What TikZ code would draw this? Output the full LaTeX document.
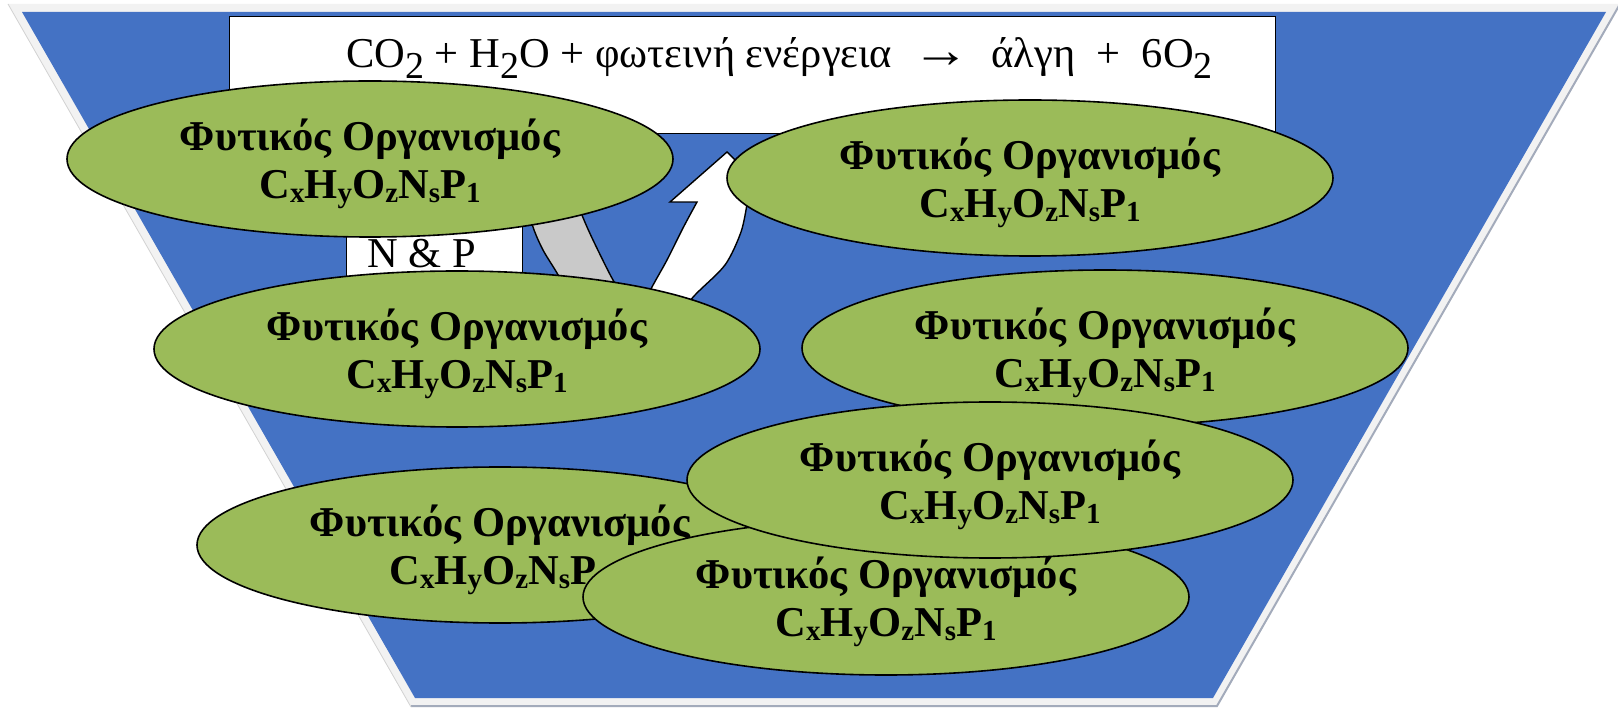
\documentclass[tikz,border=0pt]{standalone}
\usepackage{fontspec}
\setmainfont{Liberation Serif}
\usetikzlibrary{shapes.geometric}

\definecolor{trapblue}{HTML}{4472C4}
\definecolor{plantgreen}{HTML}{9BBB59}
\definecolor{framegrey}{HTML}{F2F2F2}
\definecolor{shadowgrey}{HTML}{A3ABBB}
\definecolor{backgrey}{HTML}{C9C9C9}

\newcommand{\lowsub}[1]{\raisebox{-3.5pt}{\fontsize{29}{29}\selectfont #1}}
\newcommand{\eqsub}[1]{\raisebox{-11pt}{\fontsize{38}{38}\selectfont #1}}
\newcommand{\plantlabel}{\rule{0pt}{41pt}Φυτικός Οργανισμός\\C\lowsub{x}H\lowsub{y}O\lowsub{z}N\lowsub{s}P\lowsub{1}}

\tikzset{
  organism/.style={ellipse, draw=black, line width=1.6pt, fill=plantgreen,
    minimum width=606pt, minimum height=156pt, inner sep=0pt, align=center,
    font=\fontsize{42.5}{48}\selectfont\bfseries},
  whitebox/.style={draw=black, line width=1.2pt, fill=white, inner sep=0pt, anchor=north west},
  plaintext/.style={anchor=base west, inner sep=0pt, font=\fontsize{42.5}{48}\selectfont}
}

\begin{document}
\begin{tikzpicture}[x=1pt,y=-1pt]
\useasboundingbox (0,0) rectangle (1618,708);

\fill[framegrey] (8,4) -- (1620,4) -- (1217,707) -- (411,707) -- cycle;
\draw[shadowgrey,line width=2pt] (1620,4) -- (1217,706) -- (411,706);
\draw[gray!35,line width=0.8pt] (8,4) -- (411,707);
\fill[trapblue] (22,12) -- (1606,12) -- (1213,698) -- (415,698) -- cycle;

\node[whitebox,minimum width=1046pt,minimum height=117pt] (eqbox) at (229,16) {};
\node[plaintext] (eqtext) at (346,68) {CO\eqsub{2} + H\eqsub{2}O + φωτεινή ενέργεια \ \scalebox{1.35}[1.2]{→} \ άλγη \ + \ 6O\eqsub{2}};

\node[whitebox,minimum width=176pt,minimum height=90pt] (npbox) at (346,200) {};
\node[plaintext] (nptext) at (367,268) {N \& P};

\draw[fill=backgrey,line width=1.4pt] plot[smooth] coordinates {(526,198) (533,227) (543,250) (557,273) (572,300)}
  -- plot[smooth] coordinates {(628,302) (613,280) (593,240) (582,215) (577,198)} -- cycle;
\draw[fill=white,line width=1.4pt] plot[smooth] coordinates {(638,315) (652,287) (667,260) (683,228) (697,202)}
  -- (670,202) -- (727,152) -- (780,204)
  -- plot[smooth] coordinates {(747,204) (741,232) (725,265) (695,295) (672,322)} -- cycle;

\node[organism] (org1) at (370,159) {\plantlabel};
\node[organism] (org2) at (1030,178) {\plantlabel};
\node[organism] (org3) at (457,349) {\plantlabel};
\node[organism] (org4) at (1105,348) {\plantlabel};
\node[organism] (org6) at (500,545) {\plantlabel};
\node[organism] (org7) at (886,597) {\plantlabel};
\node[organism] (org5) at (990,480) {\plantlabel};
\end{tikzpicture}
\end{document}
